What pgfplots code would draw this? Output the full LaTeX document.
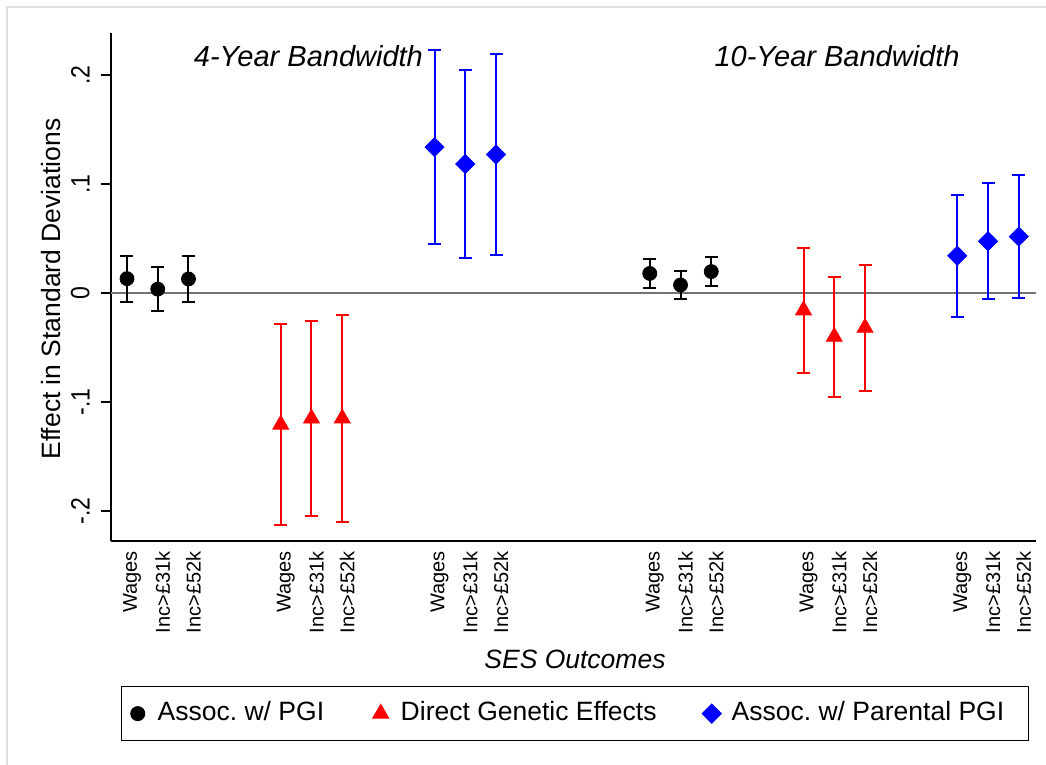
\documentclass[border=0pt]{standalone}
\usepackage{pgfplots}
\pgfplotsset{compat=1.18}
\usepackage{pgfplotstable}
\usepackage{fontspec}
\setmainfont{Liberation Sans}
\newfontfamily\condfont[FakeStretch=0.87]{Liberation Sans}

\pgfplotstableread{
x y e
1 0.0130 0.0210
2 0.0034 0.0202
3 0.0127 0.0213
18 0.0178 0.0135
19 0.0072 0.0130
20 0.0195 0.0133
}\tblack
\pgfplotstableread{
x y e
6 -0.1209 0.0922
7 -0.1153 0.0892
8 -0.1152 0.0953
23 -0.0160 0.0575
24 -0.0403 0.0550
25 -0.0320 0.0577
}\tred
\pgfplotstableread{
x y e
11 0.1337 0.0893
12 0.1182 0.0863
13 0.1269 0.0926
28 0.0340 0.0560
29 0.0473 0.0531
30 0.0516 0.0562
}\tblue

\begin{document}
\frenchspacing
\begin{tikzpicture}
\useasboundingbox (-55.5pt,-112pt) rectangle (467.5pt,270.5pt);
\draw[black!12, line width=0.6pt] (-52pt,-112pt) -- (-52pt,267pt) -- (467.5pt,267pt);
\begin{axis}[
  at={(0pt,0pt)}, anchor=south west,
  scale only axis, width=462.5pt, height=254pt,
  xmin=0.48, xmax=30.56, ymin=-0.2277, ymax=0.2384,
  axis x line*=bottom, axis y line*=left,
  axis line style={line width=0.75pt},
  clip=false,
  xtick={1,2,3,6,7,8,11,12,13,18,19,20,23,24,25,28,29,30},
  xticklabels={Wages,Inc>£31k,Inc>£52k,Wages,Inc>£31k,Inc>£52k,Wages,Inc>£31k,Inc>£52k,Wages,Inc>£31k,Inc>£52k,Wages,Inc>£31k,Inc>£52k,Wages,Inc>£31k,Inc>£52k},
  xticklabel style={rotate=90, anchor=east, inner sep=0pt, yshift=-2.5pt, font=\fontsize{10}{12}\selectfont},
  x tick style={draw=none},
  ytick={-0.2,-0.1,0,0.1,0.2},
  yticklabels={-.2,-.1,0,.1,.2},
  yticklabel style={xshift=-5.5pt, rotate=90, anchor=south, inner sep=0pt, font=\condfont\fontsize{13.25}{14}\selectfont},
  y tick style={line width=0.75pt, black},
  tick align=outside, major tick length=5pt,
  /pgf/number format/assume math mode=true,
  legend style={at={(axis description cs:0.0108,-0.2854)}, anchor=north west,
    draw=black, line width=0.75pt, inner xsep=0pt, inner ysep=7.3pt,
    font=\fontsize{13.25}{15}\selectfont, column sep=0pt,
    nodes={inner sep=0pt, text height=9.6pt, text depth=2.7pt}},
  legend columns=3, legend cell align=left,
  legend image code/.code={\path[draw=none,fill=none] (0pt,-5pt) rectangle (18pt,5pt); \draw[#1, line width=0.5pt] plot coordinates {(8pt,0pt)};},
  error bars/y dir=both, error bars/y explicit,
]
\draw[black!55, line width=0.8pt] (axis cs:0.48,0) -- (axis cs:30.56,0);
\addplot[black, only marks, mark=*, mark size=3.5pt,
  error bars/.cd, error bar style={line width=1pt, solid}, error mark options={rotate=90, mark size=3.25pt, line width=1pt}]
  table[x=x, y=y, y error=e] {\tblack};
\addlegendentry{\makebox[103.5pt][l]{Assoc. w/ PGI}}
\addplot[red, only marks, mark=triangle*, mark size=4.6pt,
  error bars/.cd, error bar style={line width=1pt, solid}, error mark options={rotate=90, mark size=3.25pt, line width=1pt}]
  table[x=x, y=y, y error=e] {\tred};
\addlegendentry{\makebox[147.5pt][l]{Direct Genetic Effects}}
\addplot[blue, only marks, mark=square*, mark size=3.36pt, mark options={rotate=45},
  error bars/.cd, error bar style={line width=1pt, solid}, error mark options={rotate=90, mark size=3.25pt, line width=1pt}]
  table[x=x, y=y, y error=e] {\tblue};
\addlegendentry{\makebox[148.5pt][l]{Assoc. w/ Parental PGI}}
\node[font=\fontsize{14.5}{16}\selectfont\itshape] at (axis cs:6.90,0.2176) {4-Year Bandwidth};
\node[font=\fontsize{14.5}{16}\selectfont\itshape] at (axis cs:24.09,0.2176) {10-Year Bandwidth};
\node[font=\fontsize{13.25}{15}\selectfont\itshape] at (axis description cs:0.5016,-0.2323) {SES Outcomes};
\node[rotate=90, font=\fontsize{13.25}{15}\selectfont] at (axis description cs:-0.0649,0.496) {Effect in Standard Deviations};
\end{axis}
\end{tikzpicture}
\end{document}
